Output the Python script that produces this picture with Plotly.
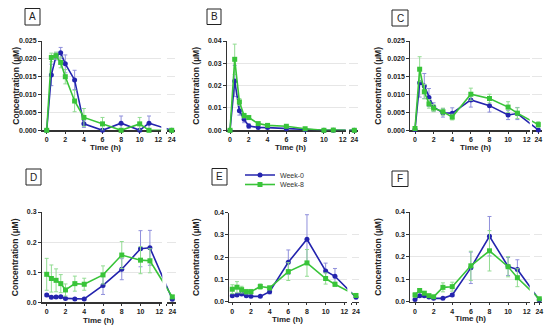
import plotly.graph_objects as go

W, H = 550, 330

# ---------------- data ----------------
times = [0, 0.5, 1, 1.5, 2, 3, 4, 6, 8, 10, 11, 24]
x_ticks_main = [0, 2, 4, 6, 8, 10, 12]
series_names = ["Week-0", "Week-8"]

a_week0 = [0, 0.0155, 0.0207, 0.0217, 0.0186, 0.0141, 0.0018, 0, 0.002, 0, 0.002, 0]
a_week0_err = [0, 0.003, 0.001, 0.0015, 0.0025, 0.0027, 0.001, 0, 0.002, 0, 0.002, 0]
a_week8 = [0, 0.0204, 0.0209, 0.019, 0.015, 0.0082, 0.0036, 0.0018, 0, 0.0018, 0, 0]
a_week8_err = [0, 0.0012, 0.001, 0.0015, 0.002, 0.003, 0.0025, 0.0018, 0, 0.0018, 0, 0]

b_week0 = [0, 0.0221, 0.0088, 0.0049, 0.0019, 0.0013, 0.0012, 0.0007, 0.0003, 0, 0, 0]
b_week0_err = [0, 0.007, 0.002, 0.0015, 0.001, 0.0005, 0.0005, 0.0003, 0.0002, 0, 0, 0]
b_week8 = [0, 0.0318, 0.0127, 0.0066, 0.0057, 0.003, 0.0022, 0.0018, 0.0007, 0, 0.0001, 0]
b_week8_err = [0, 0.0068, 0.0015, 0.001, 0.0008, 0.0005, 0.0005, 0.0004, 0.0003, 0, 0, 0]

c_week0 = [0.0002, 0.0133, 0.0124, 0.0092, 0.0065, 0.0049, 0.0048, 0.0085, 0.0069, 0.0043, 0.0047, 0.0001]
c_week0_err = [0.0002, 0.004, 0.0035, 0.0025, 0.0012, 0.0012, 0.0015, 0.002, 0.0018, 0.0013, 0.0017, 0.0005]
c_week8 = [0.0005, 0.0171, 0.0108, 0.0074, 0.0062, 0.0052, 0.0037, 0.0101, 0.0089, 0.0065, 0.0048, 0.0016]
c_week8_err = [0.0004, 0.0035, 0.002, 0.0012, 0.001, 0.001, 0.0008, 0.0017, 0.0012, 0.0015, 0.0015, 0.0008]

d_week0 = [0.024, 0.0165, 0.0176, 0.0187, 0.013, 0.011, 0.011, 0.056, 0.110, 0.178, 0.181, 0.010]
d_week0_err = [0.005, 0.004, 0.004, 0.004, 0.003, 0.003, 0.003, 0.03, 0.035, 0.06, 0.058, 0.004]
d_week8 = [0.093, 0.079, 0.073, 0.062, 0.041, 0.062, 0.060, 0.091, 0.157, 0.140, 0.138, 0.018]
d_week8_err = [0.053, 0.045, 0.038, 0.03, 0.02, 0.025, 0.02, 0.03, 0.045, 0.045, 0.04, 0.005]

e_week0 = [0.027, 0.030, 0.035, 0.027, 0.024, 0.024, 0.045, 0.177, 0.280, 0.138, 0.114, 0.020]
e_week0_err = [0.004, 0.004, 0.005, 0.004, 0.003, 0.003, 0.01, 0.055, 0.11, 0.035, 0.035, 0.004]
e_week8 = [0.056, 0.065, 0.054, 0.045, 0.045, 0.068, 0.062, 0.135, 0.174, 0.104, 0.078, 0.028]
e_week8_err = [0.02, 0.025, 0.015, 0.01, 0.01, 0.012, 0.008, 0.04, 0.06, 0.025, 0.01, 0.005]

f_week0 = [0.010, 0.026, 0.026, 0.021, 0.015, 0.015, 0.030, 0.151, 0.292, 0.157, 0.144, 0.008]
f_week0_err = [0.004, 0.005, 0.005, 0.004, 0.003, 0.003, 0.006, 0.07, 0.088, 0.04, 0.043, 0.003]
f_week8 = [0.030, 0.050, 0.038, 0.027, 0.022, 0.064, 0.067, 0.160, 0.227, 0.156, 0.107, 0.013]
f_week8_err = [0.01, 0.008, 0.006, 0.005, 0.004, 0.02, 0.02, 0.065, 0.09, 0.045, 0.04, 0.004]

y_ticks_small = [0, 0.005, 0.010, 0.015, 0.020, 0.025]
y_ticks_b = [0, 0.01, 0.02, 0.03, 0.04]
y_ticks_d = [0, 0.1, 0.2, 0.3]
y_ticks_ef = [0, 0.1, 0.2, 0.3, 0.4]

panel_data = [
    ("A", a_week0, a_week0_err, a_week8, a_week8_err, y_ticks_small, 3),
    ("B", b_week0, b_week0_err, b_week8, b_week8_err, y_ticks_b, 2),
    ("C", c_week0, c_week0_err, c_week8, c_week8_err, y_ticks_small, 3),
    ("D", d_week0, d_week0_err, d_week8, d_week8_err, y_ticks_d, 1),
    ("E", e_week0, e_week0_err, e_week8, e_week8_err, y_ticks_ef, 1),
    ("F", f_week0, f_week0_err, f_week8, f_week8_err, y_ticks_ef, 1),
]

# ---------------- layout geometry (pixels) ----------------
geom = [
    dict(yax=41.7, x0=46.7, x12=158.3, x24=171.7, bstart=166.7, right=175.0, ytop=41, ybot=130.3,
         box=(25, 8.5, 40, 25), ytx=16, tx=(105, 147.5)),
    dict(yax=226.7, x0=230.0, x12=342.7, x24=354.3, bstart=349.3, right=357.5, ytop=41, ybot=130.3,
         box=(207, 9, 221, 24.5), ytx=196, tx=(290, 147.5)),
    dict(yax=410.0, x0=415.0, x12=526.7, x24=538.3, bstart=532.0, right=541.5, ytop=41, ybot=130.3,
         box=(392, 10, 408, 26), ytx=378, tx=(475, 147.5)),
    dict(yax=41.7, x0=46.7, x12=159.3, x24=172.3, bstart=166.5, right=175.5, ytop=212, ybot=302.3,
         box=(26, 169, 41, 185), ytx=15, tx=(98, 320)),
    dict(yax=229.0, x0=232.3, x12=344.3, x24=356.0, bstart=351.5, right=358.8, ytop=212.5, ybot=301.7,
         box=(212, 168.5, 227, 185), ytx=196, tx=(287, 319)),
    dict(yax=410.0, x0=415.0, x12=526.7, x24=539.3, bstart=534.3, right=542.0, ytop=212, ybot=301.7,
         box=(392, 171, 408, 186.5), ytx=378, tx=(470, 318)),
]

BLUE = "#2424ae"
GREEN = "#39c439"
BLUE_ERR = "#9090dc"
GREEN_ERR = "#92dc92"
FONT = "Liberation Sans"
AX = "#333333"

fig = go.Figure()
legend_font = dict(size=7, family=FONT, color="#333333")
layout = dict(
    width=W, height=H, autosize=False,
    margin=dict(l=0, r=0, t=0, b=0, pad=0),
    paper_bgcolor="white", plot_bgcolor="white",
    font=dict(family=FONT, color="#222222"),
    showlegend=True,
    legend=dict(x=240 / W, y=1 - 175 / H, xanchor="left", yanchor="middle",
                font=legend_font, bgcolor="rgba(0,0,0,0)", itemwidth=30,
                tracegroupgap=0, borderwidth=0),
    legend2=dict(x=240 / W, y=1 - 184.5 / H, xanchor="left", yanchor="middle",
                 font=legend_font, bgcolor="rgba(0,0,0,0)", itemwidth=30,
                 tracegroupgap=0, borderwidth=0),
)
shapes = []
annotations = []

for k, ((label, w0, w0e, w8, w8e, yt, dec), g) in enumerate(zip(panel_data, geom)):
    pph = (g["x12"] - g["x0"]) / 12.0
    pos24 = 12 + (g["x24"] - g["x12"]) / pph
    mend = g["x12"] + 3.0
    disp = [t if t <= 12 else pos24 for t in times]

    xm = 2 * k + 1
    xb = 2 * k + 2
    yi = k + 1
    ymax = yt[-1]

    tick_font = dict(size=7, family=FONT, color="#222222", weight="bold")
    layout[f"xaxis{xm}"] = dict(
        domain=[g["yax"] / W, mend / W],
        range=[(g["yax"] - g["x0"]) / pph, 12 + (mend - g["x12"]) / pph],
        anchor=f"y{yi}", tickvals=x_ticks_main, ticktext=[str(v) for v in x_ticks_main],
        ticks="outside", ticklen=2.5, tickwidth=1, tickcolor=AX,
        showline=True, linecolor=AX, linewidth=1.2, showgrid=False, zeroline=False,
        tickfont=tick_font, layer="below traces", fixedrange=True, automargin=False,
    )
    b0 = 12 + (g["bstart"] - g["x12"]) / pph
    layout[f"xaxis{xb}"] = dict(
        domain=[g["bstart"] / W, g["right"] / W],
        range=[b0, 12 + (g["right"] - g["x12"]) / pph],
        anchor=f"y{yi}", tickvals=[b0 + 0.02, pos24], ticktext=["", "24"],
        ticks="outside", ticklen=2.5, tickwidth=1, tickcolor=AX,
        showline=True, linecolor=AX, linewidth=1.2, showgrid=False, zeroline=False,
        tickfont=tick_font, layer="below traces", fixedrange=True, automargin=False,
    )
    layout[f"yaxis{yi}"] = dict(
        domain=[1 - g["ybot"] / H, 1 - g["ytop"] / H],
        range=[0, ymax], anchor=f"x{xm}",
        tickvals=yt, ticktext=[f"{v:.{dec}f}" for v in yt],
        ticks="outside", ticklen=2.5, tickwidth=1, tickcolor=AX,
        showline=True, linecolor=AX, linewidth=1.2,
        showgrid=True, gridcolor="#e6e6e6", gridwidth=1, zeroline=False,
        tickfont=tick_font, layer="below traces", fixedrange=True, automargin=False,
    )

    for xa in (xm, xb):
        for si, (name, vals, errs, col, ecol, sym) in enumerate((
            (series_names[0], w0, w0e, BLUE, BLUE_ERR, "circle"),
            (series_names[1], w8, w8e, GREEN, GREEN_ERR, "square"),
        )):
            fig.add_trace(go.Scatter(
                x=disp, y=vals, xaxis=f"x{xa}", yaxis=f"y{yi}",
                mode="lines+markers", name=name,
                line=dict(color=col, width=1.6),
                marker=dict(color=col, size=5, symbol=sym, line=dict(width=0)),
                error_y=dict(type="data", array=errs, visible=True, color=ecol,
                             thickness=1, width=2),
                cliponaxis=False,
                showlegend=(k == 0 and xa == xm),
                legend="legend" if si == 0 else "legend2",
                hoverinfo="skip",
            ))

    # panel letter box
    bx0, by0, bx1, by1 = g["box"]
    shapes.append(dict(type="rect", xref="paper", yref="paper",
                       x0=bx0 / W, x1=bx1 / W, y0=1 - by1 / H, y1=1 - by0 / H,
                       line=dict(color="#222222", width=1), fillcolor="white"))
    annotations.append(dict(text=label, xref="paper", yref="paper",
                            x=(bx0 + bx1) / 2 / W, y=1 - (by0 + by1) / 2 / H,
                            showarrow=False, xanchor="center", yanchor="middle",
                            font=dict(size=10, family=FONT, color="#222222")))
    # axis titles
    annotations.append(dict(text="<b>Time (h)</b>", xref="paper", yref="paper",
                            x=g["tx"][0] / W, y=1 - g["tx"][1] / H,
                            showarrow=False, xanchor="center", yanchor="middle",
                            font=dict(size=8, family=FONT, color="#222222")))
    annotations.append(dict(text="<b>Concentration (µM)</b>", xref="paper", yref="paper",
                            x=g["ytx"] / W, y=1 - (g["ytop"] + g["ybot"]) / 2 / H,
                            showarrow=False, xanchor="center", yanchor="middle", textangle=-90,
                            font=dict(size=8.5, family=FONT, color="#222222")))

layout["shapes"] = shapes
layout["annotations"] = annotations
fig.update_layout(**layout)
fig.write_html("out.html", config={"displayModeBar": False, "staticPlot": True},
               post_script="document.body.style.margin='0px';document.body.style.padding='0px';")
